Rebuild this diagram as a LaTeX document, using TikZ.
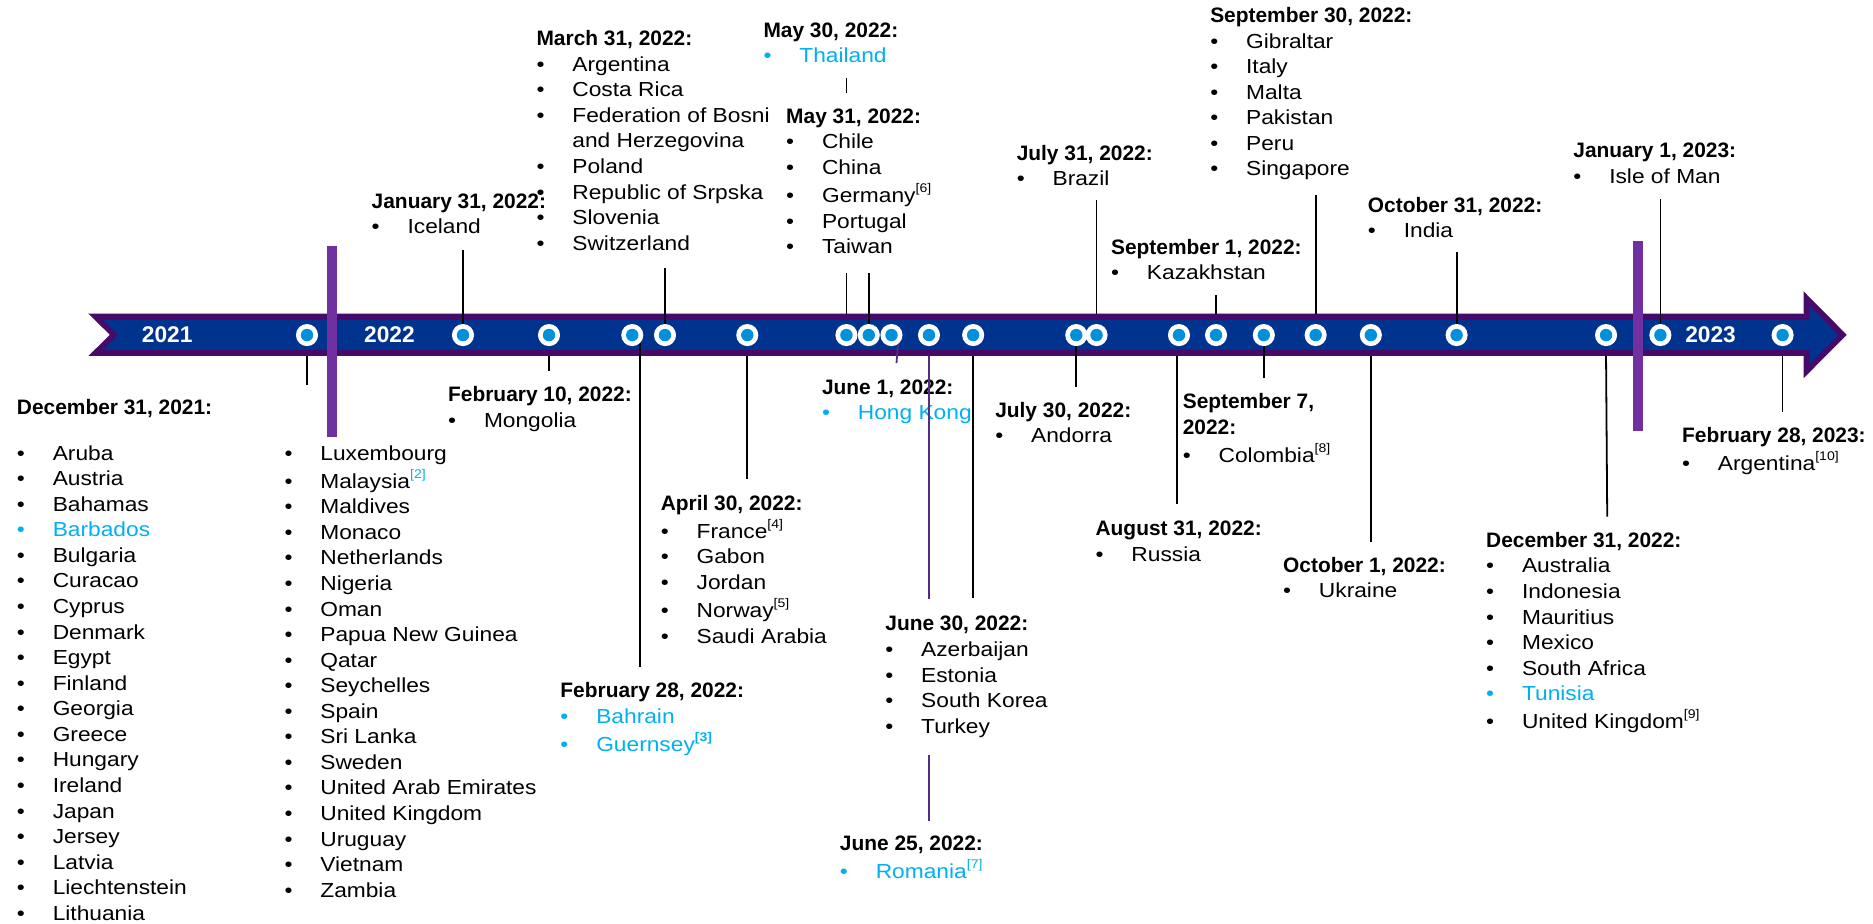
\documentclass[tikz,border=0pt]{standalone}
\usepackage{fontspec}
\setmainfont{Liberation Sans}
\newfontfamily\itemfont{Liberation Sans}[FakeStretch=1.12]
\newfontfamily\hdfont{Liberation Sans}
\usetikzlibrary{calc}
\definecolor{kblue}{HTML}{00338D}
\definecolor{kpurple}{HTML}{470A68}
\definecolor{kbar}{HTML}{7030A0}
\definecolor{kdot}{HTML}{0091DA}
\definecolor{kcyan}{HTML}{00B0F0}
\definecolor{kline}{HTML}{512D83}
\definecolor{klav}{HTML}{B9A6D8}
\newcommand{\sst}{\vrule height 15pt depth 6.4pt width 0pt}
\newcommand{\hdr}[1]{{\hdfont\bfseries\fontsize{17.5}{21.4}\selectfont\sst #1}}
\newcommand{\bitem}[1]{\sst\makebox[30pt][l]{\textbullet}#1}
\newcommand{\fnote}[1]{\raisebox{0.5em}{\fontsize{10.5}{10.5}\selectfont #1}}
\begin{document}
\begin{tikzpicture}[x=1pt,y=-1pt,
  lbl/.style={anchor=north west, inner sep=0pt, align=left, font=\itemfont\fontsize{17}{21.4}\selectfont},
  conn/.style={line width=1.5pt, black},
  pconn/.style={line width=1.5pt, kline},
  dot/.style={circle, fill=white, minimum size=18.5pt, inner sep=0pt,
    path picture={\fill[kdot] (path picture bounding box.center) circle (5.2pt);}},
  yr/.style={text=white, font=\hdfont\bfseries\fontsize{19}{22}\selectfont, inner sep=0pt}]
\useasboundingbox (0,0) rectangle (1568,773);

% ---- band ----
\fill[kpurple] (74,262.5) -- (1510,262.5) -- (1510,244) -- (1546,280.3) -- (1510,316.5) -- (1510,298) -- (74,298) -- (92,280.3) -- cycle;
\fill[kblue] (86,267.5) -- (1515,267.5) -- (1515,256.2) -- (1538.9,280.3) -- (1515,304.4) -- (1515,293) -- (86,293) -- (99,280.3) -- cycle;
\draw[klav, line width=1pt] (74,262.5) -- (1510,262.5);
\coordinate (bt) at (0,262.5);
\coordinate (bb) at (0,298);

% ---- year dividers ----
\fill[kbar] (273.9,206) rectangle (282.2,366);
\fill[kbar] (1367.3,201.5) rectangle (1375.6,360.5);
\node[yr] (y21) at (140,280.5) {2021};
\node[yr] (y22) at (326,280.5) {2022};
\node[yr] (y23) at (1432,280.5) {2023};

% ---- circle positions ----
\foreach \i/\x in {1/257,2/387.6,3/459.6,4/529.3,5/556.7,6/625.6,7/708.6,8/727.3,9/746.3,10/777.7,11/814.7,12/901,13/918,14/987,15/1018,16/1058,17/1101.4,18/1147.6,19/1219.4,20/1344.5,21/1390,22/1492.3}
  \coordinate (p\i) at (\x,280.5);

% ---- labels ----
\node[lbl] (dec21h) at (14,332) {\hdr{December 31, 2021:}};
\node[lbl] (dec21a) at (14,370) {\bitem{Aruba}\\ \bitem{Austria}\\ \bitem{Bahamas}\\ {\color{kcyan}\bitem{Barbados}}\\ \bitem{Bulgaria}\\ \bitem{Curacao}\\ \bitem{Cyprus}\\ \bitem{Denmark}\\ \bitem{Egypt}\\ \bitem{Finland}\\ \bitem{Georgia}\\ \bitem{Greece}\\ \bitem{Hungary}\\ \bitem{Ireland}\\ \bitem{Japan}\\ \bitem{Jersey}\\ \bitem{Latvia}\\ \bitem{Liechtenstein}\\ \bitem{Lithuania}};
\node[lbl] (dec21b) at (238,370) {\bitem{Luxembourg}\\ \bitem{Malaysia{\color{kcyan}\fnote{[2]}}}\\ \bitem{Maldives}\\ \bitem{Monaco}\\ \bitem{Netherlands}\\ \bitem{Nigeria}\\ \bitem{Oman}\\ \bitem{Papua New Guinea}\\ \bitem{Qatar}\\ \bitem{Seychelles}\\ \bitem{Spain}\\ \bitem{Sri Lanka}\\ \bitem{Sweden}\\ \bitem{United Arab Emirates}\\ \bitem{United Kingdom}\\ \bitem{Uruguay}\\ \bitem{Vietnam}\\ \bitem{Zambia}};
\node[lbl] (jan31) at (311,159) {\hdr{January 31, 2022:}\\ \bitem{Iceland}};
\node[lbl] (feb10) at (375,321) {\hdr{February 10, 2022:}\\ \bitem{Mongolia}};
\node[lbl] (feb28) at (469,569) {\hdr{February 28, 2022:}\\ {\color{kcyan}\bitem{Bahrain}}\\ {\color{kcyan}\bitem{Guernsey\fnote{\bfseries[3]}}}};
\node[lbl] (mar31) at (449,23) {\hdr{March 31, 2022:}\\ \bitem{Argentina}\\ \bitem{Costa Rica}\\ \bitem{Federation of Bosni}\\ \sst\hspace*{30pt}and Herzegovina\\ \bitem{Poland}\\ \bitem{Republic of Srpska}\\ \bitem{Slovenia}\\ \bitem{Switzerland}};
\node[lbl] (apr30) at (553,412) {\hdr{April 30, 2022:}\\ \bitem{France\fnote{[4]}}\\ \bitem{Gabon}\\ \bitem{Jordan}\\ \bitem{Norway\fnote{[5]}}\\ \bitem{Saudi Arabia}};
\node[lbl] (may30) at (639,16) {\hdr{May 30, 2022:}\\ {\color{kcyan}\bitem{Thailand}}};
\node[lbl] (jun1) at (688,315) {\hdr{June 1, 2022:}\\ {\color{kcyan}\bitem{Hong Kong}}};
\node[lbl] (jun25) at (703,697) {\hdr{June 25, 2022:}\\ {\color{kcyan}\bitem{Romania\fnote{[7]}}}};
\node[lbl] (jul30) at (833,334) {\hdr{July 30, 2022:}\\ \bitem{Andorra}};
\node[lbl] (jul31) at (851,119) {\hdr{July 31, 2022:}\\ \bitem{Brazil}};
\node[lbl] (aug31) at (917,433.5) {\hdr{August 31, 2022:}\\ \bitem{Russia}};
\node[lbl] (sep1) at (930,197.5) {\hdr{September 1, 2022:}\\ \bitem{Kazakhstan}};
\node[lbl] (sep7) at (990,327) {\hdr{September 7,}\\ \hdr{2022:}\\ \bitem{Colombia\fnote{[8]}}};
\node[lbl] (sep30) at (1013,3.6) {\hdr{September 30, 2022:}\\ \bitem{Gibraltar}\\ \bitem{Italy}\\ \bitem{Malta}\\ \bitem{Pakistan}\\ \bitem{Peru}\\ \bitem{Singapore}};
\node[lbl] (oct1) at (1074,464) {\hdr{October 1, 2022:}\\ \bitem{Ukraine}};
\node[lbl] (oct31) at (1145,162.6) {\hdr{October 31, 2022:}\\ \bitem{India}};
\node[lbl] (dec22) at (1244,443) {\hdr{December 31, 2022:}\\ \bitem{Australia}\\ \bitem{Indonesia}\\ \bitem{Mauritius}\\ \bitem{Mexico}\\ \bitem{South Africa}\\ {\color{kcyan}\bitem{Tunisia}}\\ \bitem{United Kingdom\fnote{[9]}}};
\node[lbl] (jan1) at (1317,117) {\hdr{January 1, 2023:}\\ \bitem{Isle of Man}};
\node[lbl] (feb28b) at (1408,355) {\hdr{February 28, 2023:}\\ \bitem{Argentina\fnote{[10]}}};

% ---- connector ends ----
\coordinate (e1) at (257,322);
\coordinate (e2) at (387.6,209);
\coordinate (e3) at (459.6,311);
\coordinate (s4) at (536,285);   \coordinate (e4) at (536,558);
\coordinate (e5) at (556.7,224.6);
\coordinate (e6) at (625.6,401);
\coordinate (e7) at (708.6,65);
\coordinate (e8) at (727.3,224.6);
\coordinate (s9) at (752,285);   \coordinate (e9) at (750.5,304);
\coordinate (e10) at (777.7,687);
\coordinate (e11) at (814.7,501);
\coordinate (e12) at (901,323.7);
\coordinate (e13) at (918,167.4);
\coordinate (s14) at (985,298);  \coordinate (e14) at (985,421.7);
\coordinate (e15) at (1018,247);
\coordinate (e16) at (1058,316.7);
\coordinate (e17) at (1101.4,163);
\coordinate (e18) at (1147.6,453.5);
\coordinate (e19) at (1219.4,210.7);
\coordinate (e20) at (1345.5,432.5);
\coordinate (e21) at (1390,166.6);
\coordinate (e22) at (1492.3,344.6);

% ---- connectors ----
\draw[conn] (p1 |- bb) -- (e1);
\draw[conn] (p2) -- (e2);
\draw[conn] (p3 |- bb) -- (e3);
\draw[conn] (s4) -- (e4);
\draw[conn] (p5) -- (e5);
\draw[conn] (p6 |- bb) -- (e6);
\draw[conn] (p7 |- bt) -- (e7);
\draw[conn] (p8) -- (e8);
\draw[pconn] (s9) -- (e9);
\draw[pconn] (p10 |- bb) -- (e10);
\draw[conn] (p11 |- bb) -- (e11);
\draw[conn] (p12) -- (e12);
\draw[conn] (p13 |- bt) -- (e13);
\draw[conn] (s14) -- (e14);
\draw[conn] (p15 |- bt) -- (e15);
\draw[conn] (p16) -- (e16);
\draw[conn] (p17 |- bt) -- (e17);
\draw[conn] (p18 |- bb) -- (e18);
\draw[conn] (p19) -- (e19);
\draw[conn] (p20 |- bb) -- (e20);
\draw[conn] (p21) -- (e21);
\draw[conn] (p22 |- bb) -- (e22);

% ---- labels with white background (cover lines) ----
\node[lbl, fill=white, inner xsep=13pt, inner ysep=10pt] (may31) at (645,78) {\hdr{May 31, 2022:}\\ \bitem{Chile}\\ \bitem{China}\\ \bitem{Germany\fnote{[6]}}\\ \bitem{Portugal}\\ \bitem{Taiwan}};
\node[lbl, fill=white, inner xsep=10pt, inner ysep=12pt] (jun30) at (731,501) {\hdr{June 30, 2022:}\\ \bitem{Azerbaijan}\\ \bitem{Estonia}\\ \bitem{South Korea}\\ \bitem{Turkey}};

% ---- circles ----
\foreach \i in {1,...,22} \node[dot] (c\i) at (p\i) {};
\end{tikzpicture}
\end{document}
